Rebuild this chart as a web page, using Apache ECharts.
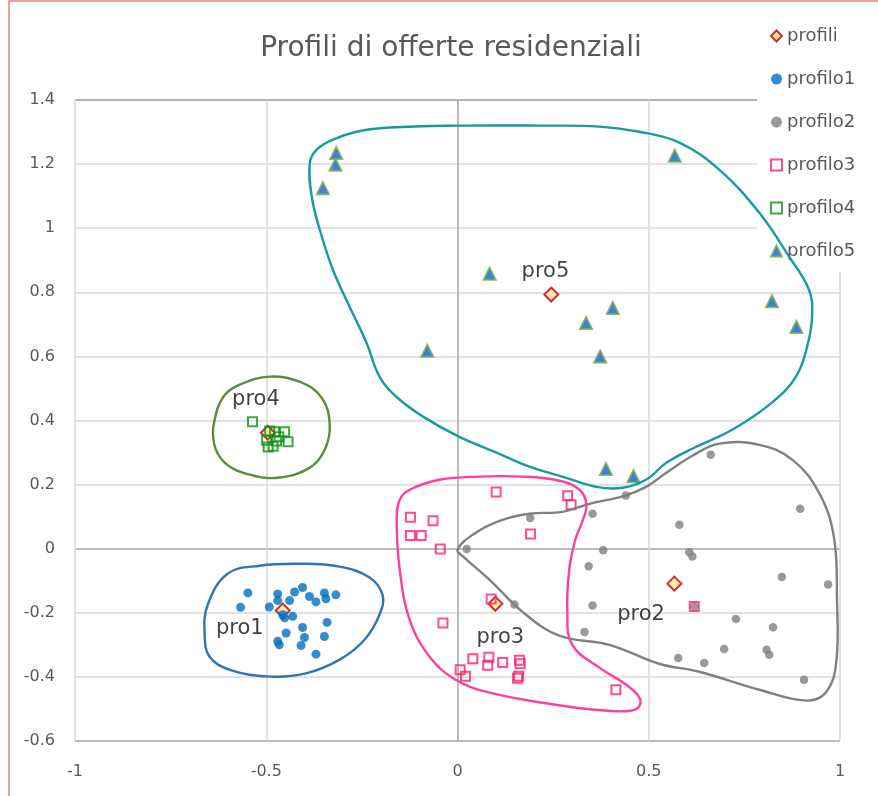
<!DOCTYPE html>
<html><head><meta charset="utf-8">
<script src="https://cdn.jsdelivr.net/npm/echarts@6/dist/echarts.min.js"></script>
<style>
html,body{margin:0;padding:0;background:#fff}
#chart{position:absolute;left:0;top:0;width:878px;height:796px}
#frame{position:absolute;left:8px;top:0;width:870px;height:796px;border-left:2px solid #E7A3A3;border-top:2px solid #E7A3A3;box-sizing:border-box;pointer-events:none}
</style></head>
<body><div id="chart"></div><div id="frame"></div>
<script>
// ---- data ----
const titleText = 'Profili di offerte residenziali';
const xTicks = [-1, -0.5, 0, 0.5, 1];
const yTicks = [-0.6, -0.4, -0.2, 0, 0.2, 0.4, 0.6, 0.8, 1, 1.2, 1.4];
const seriesNames = ['profili', 'profilo1', 'profilo2', 'profilo3', 'profilo4', 'profilo5'];

const profili = [[-0.496, 0.362], [-0.457, -0.193], [0.245, 0.793], [0.099, -0.172], [0.567, -0.109]];
const profilo1 = [[-0.548,-0.138],[-0.567,-0.183],[-0.492,-0.182],[-0.470,-0.141],[-0.470,-0.162],[-0.426,-0.135],[-0.405,-0.121],[-0.439,-0.162],[-0.387,-0.149],[-0.370,-0.166],[-0.348,-0.138],[-0.344,-0.156],[-0.318,-0.144],[-0.452,-0.216],[-0.431,-0.211],[-0.448,-0.263],[-0.470,-0.289],[-0.466,-0.300],[-0.405,-0.246],[-0.400,-0.277],[-0.409,-0.302],[-0.341,-0.230],[-0.348,-0.274],[-0.370,-0.329],[-0.457,-0.206]];
const profilo2 = [[0.662,0.293],[0.440,0.166],[0.353,0.109],[0.580,0.075],[0.896,0.125],[0.381,-0.005],[0.606,-0.011],[0.614,-0.024],[0.343,-0.055],[0.848,-0.088],[0.969,-0.112],[0.353,-0.177],[0.619,-0.180],[0.728,-0.219],[0.825,-0.245],[0.332,-0.260],[0.697,-0.313],[0.808,-0.315],[0.815,-0.331],[0.577,-0.341],[0.645,-0.357],[0.906,-0.409],[0.190,0.096],[0.024,-0.001],[0.149,-0.174]];
const profilo3 = [[0.101,0.177],[0.288,0.165],[0.297,0.137],[-0.123,0.098],[-0.064,0.087],[-0.123,0.041],[-0.095,0.041],[0.191,0.046],[-0.045,-0.001],[0.088,-0.157],[-0.038,-0.232],[0.040,-0.343],[0.082,-0.339],[0.079,-0.364],[0.118,-0.355],[0.162,-0.348],[0.164,-0.359],[0.157,-0.404],[0.160,-0.398],[0.007,-0.378],[0.021,-0.398],[0.414,-0.440],[0.619,-0.180]];
const profilo4 = [[-0.536,0.396],[-0.491,0.367],[-0.478,0.365],[-0.452,0.365],[-0.443,0.334],[-0.499,0.338],[-0.473,0.336],[-0.495,0.317],[-0.482,0.320],[-0.467,0.349]];
const profilo5 = [[-0.317,1.235],[-0.319,1.198],[-0.352,1.125],[-0.079,0.618],[0.084,0.858],[0.568,1.226],[0.406,0.751],[0.336,0.704],[0.373,0.600],[0.822,0.772],[0.886,0.692],[0.388,0.249],[0.460,0.226]];

const clusterNames = ['pro4', 'pro1', 'pro5', 'pro3', 'pro2'];
const clusterLabelPos = [[-0.527, 0.465], [-0.569, -0.250], [0.230, 0.864], [0.112, -0.278], [0.480, -0.206]];

// hand-drawn closed outlines around each cluster (data coordinates)
const outlinePro1 = [[-0.601,-0.078],[-0.517,-0.053],[-0.413,-0.047],[-0.308,-0.056],[-0.230,-0.090],[-0.196,-0.144],[-0.204,-0.206],[-0.243,-0.284],[-0.308,-0.346],[-0.399,-0.390],[-0.491,-0.399],[-0.595,-0.378],[-0.648,-0.337],[-0.661,-0.268],[-0.653,-0.175]];
const outlinePro4 = [[-0.569,0.512],[-0.491,0.537],[-0.413,0.521],[-0.355,0.471],[-0.334,0.387],[-0.347,0.309],[-0.386,0.253],[-0.465,0.222],[-0.543,0.231],[-0.608,0.268],[-0.637,0.331],[-0.632,0.418],[-0.608,0.480]];
const outlinePro3 = [[-0.151,0.153],[-0.125,0.184],[-0.047,0.215],[0.057,0.225],[0.170,0.225],[0.266,0.212],[0.319,0.184],[0.337,0.137],[0.326,0.084],[0.308,0.028],[0.292,-0.066],[0.287,-0.200],[0.300,-0.300],[0.371,-0.371],[0.444,-0.427],[0.478,-0.471],[0.465,-0.502],[0.386,-0.505],[0.256,-0.487],[0.084,-0.449],[-0.005,-0.409],[-0.073,-0.337],[-0.125,-0.222],[-0.151,-0.066],[-0.159,0.090]];
const outlinePro2 = [[0,-0.003],[0.044,0.047],[0.110,0.087],[0.188,0.109],[0.274,0.115],[0.345,0.140],[0.436,0.165],[0.493,0.193],[0.546,0.237],[0.614,0.290],[0.684,0.328],[0.789,0.324],[0.875,0.278],[0.945,0.175],[0.984,0.037],[0.992,-0.150],[0.990,-0.356],[0.963,-0.449],[0.911,-0.474],[0.789,-0.440],[0.632,-0.384],[0.527,-0.359],[0.397,-0.300],[0.266,-0.271],[0.170,-0.197],[0.084,-0.097],[0.018,-0.028]];
const outlinePro5 = [[-0.386,1.204],[-0.368,1.245],[-0.326,1.276],[-0.264,1.301],[-0.178,1.314],[0,1.320],[0.214,1.320],[0.371,1.317],[0.475,1.301],[0.580,1.267],[0.684,1.183],[0.789,1.048],[0.867,0.911],[0.919,0.808],[0.927,0.724],[0.914,0.630],[0.885,0.537],[0.822,0.456],[0.718,0.371],[0.624,0.318],[0.546,0.268],[0.493,0.215],[0.431,0.190],[0.363,0.193],[0.274,0.225],[0.188,0.256],[0.102,0.300],[0.005,0.349],[-0.086,0.409],[-0.157,0.471],[-0.204,0.537],[-0.238,0.643],[-0.282,0.755],[-0.326,0.871],[-0.360,0.995],[-0.381,1.098]];

// ---- chart ----
const FONT = '"DejaVu Sans", "Open Sans", sans-serif';
const gridColor = '#D9D9D9';
const zeroColor = '#A6A6A6';
const chart = echarts.init(document.getElementById('chart'), null, {renderer: 'canvas'});

function outline(points, color) {
  return {
    type: 'custom', silent: true, z: 6, data: [points[0]], clip: false, tooltip: {show: false},
    renderItem: function (params, api) {
      return {
        type: 'polygon',
        shape: {points: points.map(p => api.coord(p)), smooth: 0.4},
        style: {fill: 'none', stroke: color, lineWidth: 2.4}
      };
    }
  };
}

chart.setOption({
  animation: false,
  backgroundColor: '#fff',
  title: {text: titleText, left: 446, top: 30, textAlign: 'center',
    textStyle: {fontFamily: FONT, fontSize: 28, fontWeight: 'normal', color: '#595959'}},
  legend: {
    data: seriesNames, orient: 'vertical', left: 757, top: 15,
    padding: [11, 8, 10, 13], itemGap: 23, itemWidth: 11, itemHeight: 11,
    backgroundColor: '#fff', z: 4,
    textStyle: {fontFamily: FONT, fontSize: 18, color: '#595959', lineHeight: 20}
  },
  grid: {left: 75, right: 38, top: 100, bottom: 55, containLabel: false},
  xAxis: {
    type: 'value', min: xTicks[0], max: xTicks[xTicks.length - 1], interval: xTicks[1] - xTicks[0],
    axisLine: {show: false}, axisTick: {show: false},
    axisLabel: {fontFamily: FONT, fontSize: 16, color: '#595959', margin: 23},
    splitLine: {show: true, lineStyle: {width: 1.5, color: xTicks.map(v => v === 0 ? zeroColor : gridColor)}}
  },
  yAxis: {
    type: 'value', min: yTicks[0], max: yTicks[yTicks.length - 1], interval: yTicks[1] - yTicks[0],
    axisLine: {show: false}, axisTick: {show: false},
    axisLabel: {fontFamily: FONT, fontSize: 16, color: '#595959', margin: 20,
      formatter: v => String(Math.round(v * 10) / 10)},
    splitLine: {show: true, lineStyle: {width: 1.5, color: yTicks.map((v, i) => (v === 0 || i === 0) ? zeroColor : gridColor)}}
  },
  series: [
    {name: 'profili', type: 'scatter', data: profili, symbol: 'diamond', symbolSize: 14, z: 2,
      itemStyle: {color: '#FFE699', borderColor: '#C00000', borderWidth: 2}},
    {name: 'profilo1', type: 'scatter', data: profilo1, symbol: 'circle', symbolSize: 9, z: 3,
      itemStyle: {color: '#0070C0'}},
    {name: 'profilo2', type: 'scatter', data: profilo2, symbol: 'circle', symbolSize: 8.5, z: 3,
      itemStyle: {color: '#7F7F7F'}},
    {name: 'profilo3', type: 'scatter', data: profilo3, symbol: 'rect', symbolSize: 9, z: 3,
      itemStyle: {color: 'rgba(255,255,255,0)', borderColor: '#FF1F6E', borderWidth: 2}},
    {name: 'profilo4', type: 'scatter', data: profilo4, symbol: 'rect', symbolSize: 9, z: 3,
      itemStyle: {color: 'rgba(255,255,255,0)', borderColor: '#109010', borderWidth: 2}},
    {name: 'profilo5', type: 'scatter', data: profilo5, symbol: 'triangle', symbolSize: 12, z: 3,
      itemStyle: {color: '#0A5FE0', borderColor: '#70AD47', borderWidth: 2}},
    {name: 'clusterLabels', type: 'scatter', symbolSize: 0, silent: true, z: 5,
      data: clusterNames.map((n, i) => ({name: n, value: clusterLabelPos[i]})),
      label: {show: true, position: 'inside', formatter: '{b}', fontFamily: FONT, fontSize: 21, color: '#111'}},
    outline(outlinePro5, '#169C9C'),
    outline(outlinePro2, '#808080'),
    outline(outlinePro3, '#FF3F9F'),
    outline(outlinePro1, '#2E75B6'),
    outline(outlinePro4, '#5B8C3A')
  ]
});
</script>
</body></html>
